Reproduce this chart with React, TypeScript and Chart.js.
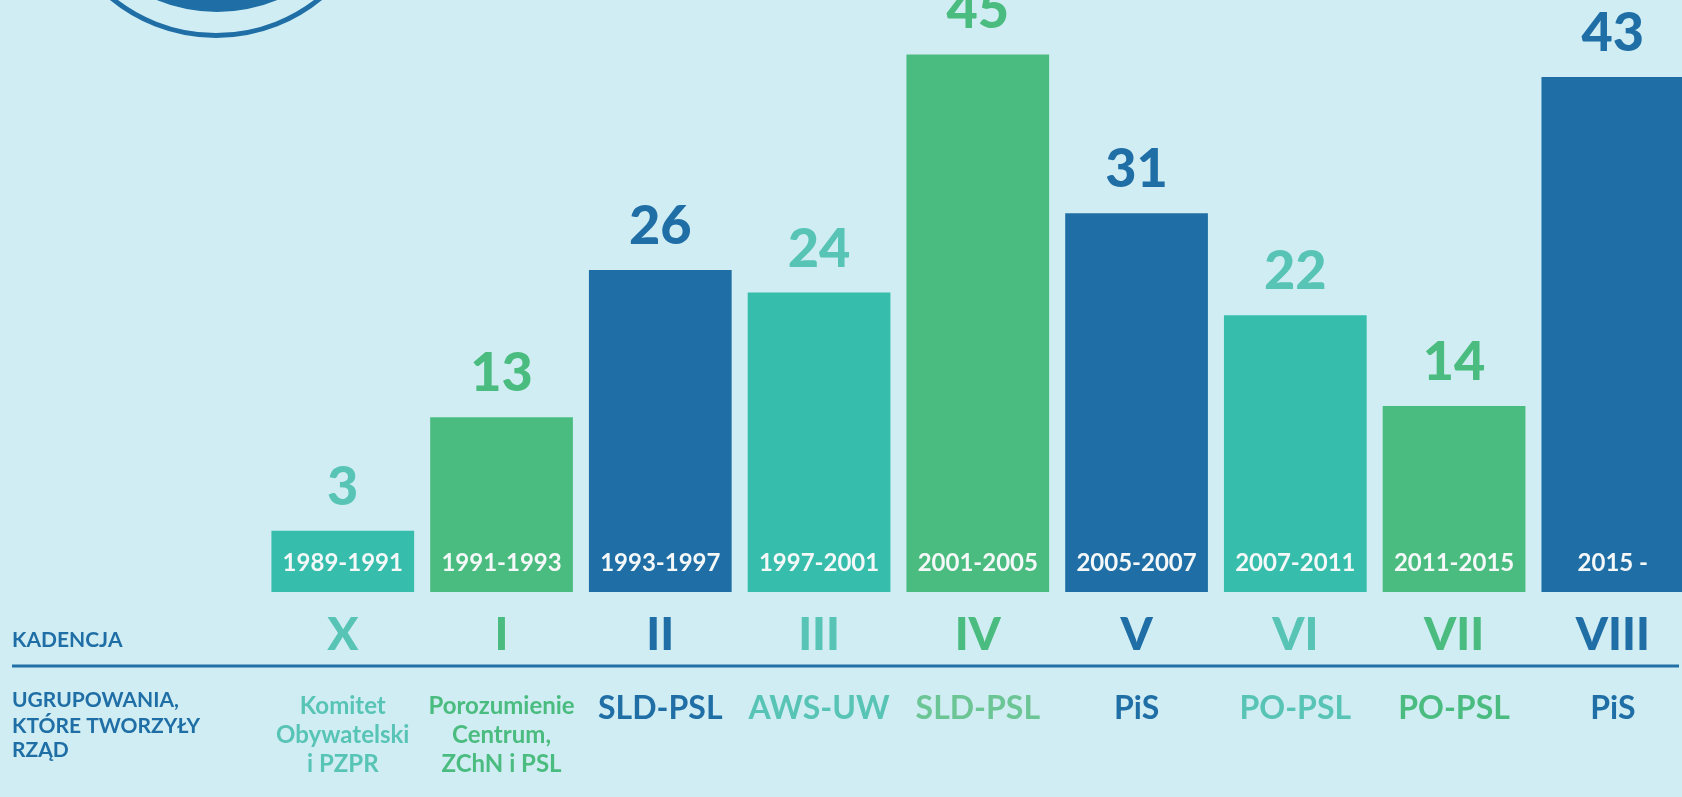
import React, { useEffect, useRef } from "react";
import { Chart, registerables } from "chart.js";

Chart.register(...registerables);

const terms = ["1989-1991", "1991-1993", "1993-1997", "1997-2001", "2001-2005", "2005-2007", "2007-2011", "2011-2015", "2015 -"];
const values = [3, 13, 26, 24, 45, 31, 22, 14, 43];
const kadencje = ["X", "I", "II", "III", "IV", "V", "VI", "VII", "VIII"];
const parties = [
  ["Komitet", "Obywatelski", "i PZPR"],
  ["Porozumienie", "Centrum,", "ZChN i PSL"],
  ["SLD-PSL"],
  ["AWS-UW"],
  ["SLD-PSL"],
  ["PiS"],
  ["PO-PSL"],
  ["PO-PSL"],
  ["PiS"],
];
const rowTitles = ["KADENCJA"];
const rowTitles2 = ["UGRUPOWANIA,", "KTÓRE TWORZYŁY", "RZĄD"];

const BLUE = "#1F6FA6";
const GREEN = "#4BBC7F";
const TEAL = "#36BDAB";
const barColors = [TEAL, GREEN, BLUE, TEAL, GREEN, BLUE, TEAL, GREEN, BLUE];
const labelColors = ["#57C4B5", "#4BBC7F", BLUE, "#57C4B5", "#4BBC7F", BLUE, "#57C4B5", "#4BBC7F", BLUE];
const partyColors = ["#57C4B5", "#4BBC7F", BLUE, "#57C4B5", "#6CC594", BLUE, "#57C4B5", "#4BBC7F", BLUE];
const BG = "#D0EDF3";
const FONT = 'Lato, "Open Sans", sans-serif';

const decorPlugin = {
  id: "decor",
  beforeDraw(chart: any) {
    const ctx = chart.ctx;
    ctx.save();
    ctx.fillStyle = BG;
    ctx.fillRect(0, 0, chart.width, chart.height);
    // top-left emblem fragment
    ctx.strokeStyle = BLUE;
    ctx.lineWidth = 5;
    ctx.beginPath();
    ctx.arc(216, -129, 164.5, 0, Math.PI * 2);
    ctx.stroke();
    ctx.fillStyle = BLUE;
    ctx.beginPath();
    ctx.arc(217, -144, 156, 0, Math.PI * 2);
    ctx.fill();
    ctx.restore();
  },
  afterDraw(chart: any) {
    const ctx = chart.ctx;
    const xs = chart.scales.x;
    const meta = chart.getDatasetMeta(0);
    ctx.save();
    ctx.textAlign = "center";
    ctx.textBaseline = "alphabetic";
    meta.data.forEach((bar: any, i: number) => {
      const cx = xs.getPixelForValue(i);
      // value label
      ctx.fillStyle = labelColors[i];
      ctx.font = `900 54px ${FONT}`;
      ctx.fillText(String(values[i]), cx, bar.y - 26);
      // term dates inside bar
      ctx.fillStyle = "#F4F8F8";
      ctx.font = `bold 24px ${FONT}`;
      ctx.fillText(terms[i], cx, bar.base - 21);
      // roman numeral
      ctx.fillStyle = labelColors[i];
      ctx.font = `900 46px ${FONT}`;
      ctx.fillText(kadencje[i], cx, 650);
      // parties
      ctx.fillStyle = partyColors[i];
      const lines = parties[i];
      if (lines.length === 1) {
        ctx.font = `bold 32px ${FONT}`;
        ctx.fillText(lines[0], cx, 719);
      } else {
        ctx.font = `bold 24px ${FONT}`;
        lines.forEach((ln: string, k: number) => ctx.fillText(ln, cx, 714 + k * 29));
      }
    });
    // separator line
    ctx.strokeStyle = "#2270A8";
    ctx.lineWidth = 3;
    ctx.beginPath();
    ctx.moveTo(12, 666);
    ctx.lineTo(1679, 666);
    ctx.stroke();
    // row titles
    ctx.textAlign = "left";
    ctx.fillStyle = BLUE;
    ctx.font = `bold 21px ${FONT}`;
    ctx.fillText(rowTitles[0], 12, 647);
    rowTitles2.forEach((t, k) => ctx.fillText(t, 12, [707, 733, 757][k]));
    ctx.restore();
  },
};

export default function App() {
  const ref = useRef<HTMLCanvasElement>(null);
  useEffect(() => {
    document.body.style.margin = "0";
    document.body.style.overflow = "hidden";
    const chart = new Chart(ref.current!, {
      type: "bar",
      data: {
        labels: terms,
        datasets: [
          {
            data: values,
            backgroundColor: barColors,
            borderWidth: 0,
            base: -2.4,
            categoryPercentage: 1,
            barPercentage: 0.899,
          } as any,
        ],
      },
      options: {
        responsive: false,
        animation: false,
        events: [],
        layout: { padding: { left: 263.4, right: 7.8, top: 0, bottom: 205 } },
        plugins: { legend: { display: false }, tooltip: { enabled: false } },
        scales: {
          x: { display: false },
          y: { display: false, min: -2.4, max: 49.8 },
        },
      },
      plugins: [decorPlugin],
    });
    return () => chart.destroy();
  }, []);
  return (
    <div style={{ width: 1682, height: 797, overflow: "hidden", background: BG }}>
      <canvas ref={ref} width={1700} height={797} style={{ display: "block" }} />
    </div>
  );
}
